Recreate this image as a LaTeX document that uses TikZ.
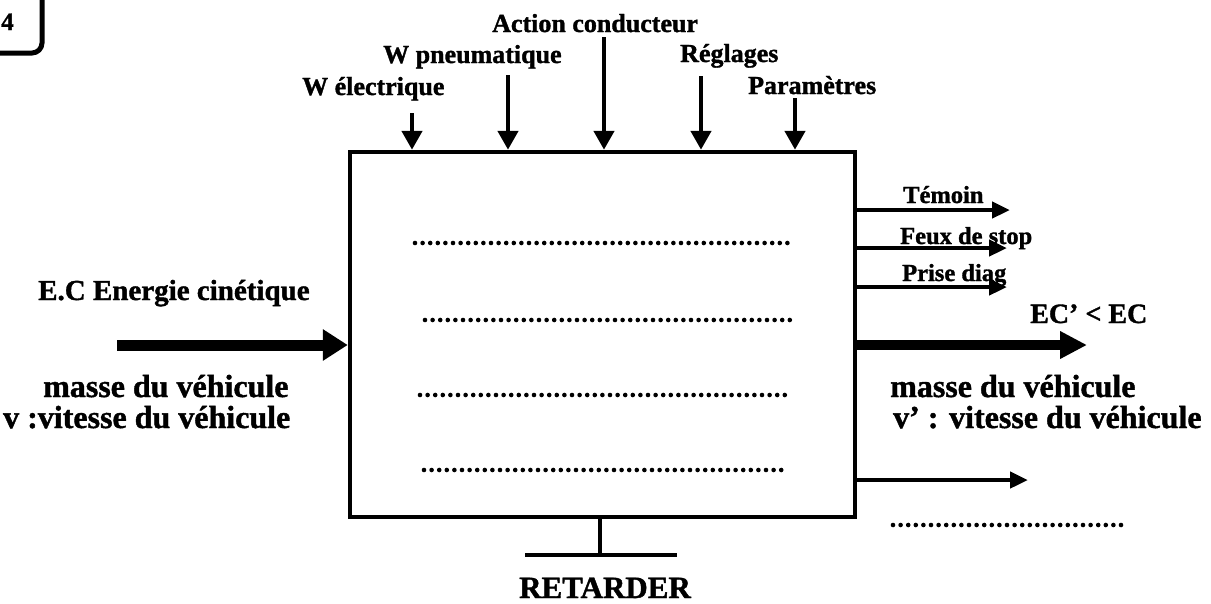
\documentclass[tikz,border=0pt]{standalone}
\usepackage{fontspec}
\setmainfont{Liberation Serif}[BoldFeatures={FakeBold=1.3}]
\usetikzlibrary{arrows.meta}
\tikzset{
  lbl/.style={font=\bfseries\fontsize{26}{30}\selectfont, inner sep=0pt, anchor=base west},
  biglbl/.style={font=\bfseries\fontsize{32}{36}\selectfont, inner sep=0pt, anchor=base west},
  smlbl/.style={font=\bfseries\fontsize{24.5}{28}\selectfont, inner sep=0pt, anchor=base west},
  toparrow/.style={line width=4.5pt, -{Triangle[length=19pt,width=20pt]}},
  thinarrow/.style={line width=4.5pt, -{Triangle[length=18pt,width=16pt]}},
  thickarrow/.style={line width=11pt, -{Triangle[length=25pt,width=30pt]}},
  thickarrowb/.style={line width=10pt, -{Triangle[length=27pt,width=26pt]}},
  dotline/.style={line width=4.6pt, line cap=round, dash pattern=on 0pt off 7.6pt},
  mainbox/.style={draw, line width=4.5pt, minimum width=505pt, minimum height=365pt, inner sep=0pt},
}
\begin{document}
\begin{tikzpicture}[x=1pt,y=-1pt]
\useasboundingbox (0,0) rectangle (1211,603);
% corner mark
\draw[line width=5pt, rounded corners=10pt] (42,-3) -- (42,53) -- (-3,53);
\node[font=\bfseries\fontsize{25}{28}\selectfont, inner sep=0pt, anchor=base west] (num) at (1,30) {4};

% main box
\node[mainbox] (box) at (602.5,334.5) {};

% top inputs
\node[lbl] (tAC) at (492,32) {Action conducteur};
\node[lbl] (tWP) at (383,63) {W pneumatique};
\node[lbl] (tRG) at (680,62) {Réglages};
\node[lbl] (tWE) at (302,95) {W électrique};
\node[lbl] (tPA) at (748,94) {Paramètres};
\coordinate (aWE) at (412,113);
\coordinate (aWP) at (508,75);
\coordinate (aAC) at (604,37);
\coordinate (aRG) at (701,76);
\coordinate (aPA) at (795,98);
\foreach \c in {aWE,aWP,aAC,aRG,aPA}
  \draw[toparrow] (\c) -- (\c |- box.north);

% left input
\node[lbl, font=\bfseries\fontsize{29}{33}\selectfont] (ec) at (38,300) {E.C Energie cinétique};
\coordinate (inL) at (117,345);
\draw[thickarrow] (inL) -- (inL -| box.west);
\node[biglbl] (mL) at (43,397) {masse du véhicule};
\node[biglbl] (vL) at (3,428) {v :vitesse du véhicule};

% inner dotted lines
\draw[dotline] (415,243) -- (790,243);
\draw[dotline] (425,320) -- (793,320);
\draw[dotline] (420,395) -- (788,395);
\draw[dotline] (424,470) -- (785,470);

% right outputs
\coordinate (oTE) at (1010,210);
\coordinate (oFS) at (1007,248);
\coordinate (oPD) at (1007,287);
\coordinate (oEC) at (1087,345);
\coordinate (oX) at (1028,480);
\draw[thinarrow] (oTE -| box.east) -- (oTE);
\draw[thinarrow] (oFS -| box.east) -- (oFS);
\draw[thinarrow] (oPD -| box.east) -- (oPD);
\draw[thickarrowb] (oEC -| box.east) -- (oEC);
\draw[thinarrow] (oX -| box.east) -- (oX);
\node[smlbl] (lTE) at (903,203) {Témoin};
\node[smlbl] (lFS) at (900,244) {Feux de stop};
\node[smlbl] (lPD) at (902,281) {Prise diag};
\node[lbl, font=\bfseries\fontsize{28}{32}\selectfont] (lEC) at (1030,323) {EC’ < EC};
\node[biglbl] (mR) at (890,397) {masse du véhicule};
\node[biglbl] (vR) at (893,428) {v’ : vitesse du véhicule};
\draw[dotline] (893,525) -- (1127,525);

% bottom support
\coordinate (sb) at (600,555);
\draw[line width=4.5pt] (box.south -| sb) -- (sb);
\draw[line width=4.5pt] (525,555) -- (677,555);
\node[biglbl, font=\bfseries\fontsize{31}{35}\selectfont, anchor=base] (ret) at (605,598) {RETARDER};
\end{tikzpicture}
\end{document}
